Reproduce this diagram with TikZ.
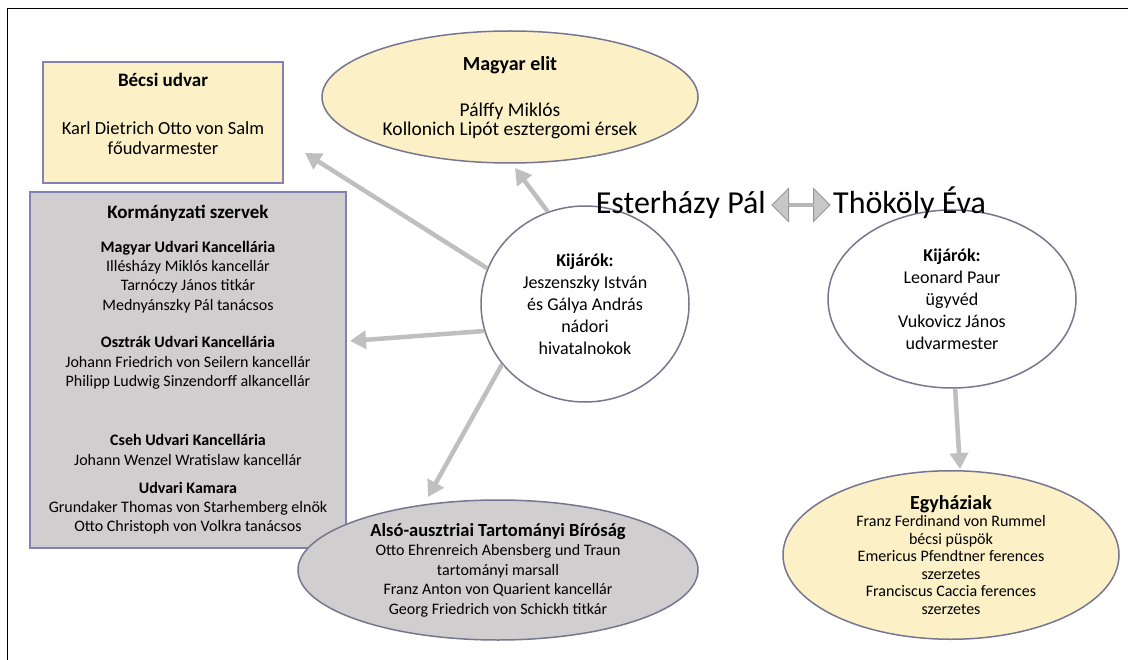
\documentclass[tikz,border=0pt]{standalone}
\usepackage{fontspec}
\setmainfont{Carlito}
\usetikzlibrary{arrows.meta,shapes.geometric,shapes.arrows}

\definecolor{cream}{RGB}{252,240,199}
\definecolor{boxline}{RGB}{132,128,180}
\definecolor{panelgray}{RGB}{208,206,206}
\definecolor{ovalline}{RGB}{118,118,144}
\definecolor{linkgray}{RGB}{191,191,191}
\definecolor{marrfill}{RGB}{200,200,200}
\definecolor{marrline}{RGB}{150,150,150}

\begin{document}
\begin{tikzpicture}[x=1pt, y=-1pt,
  yellowbox/.style={draw=boxline, fill=cream, line width=1.5, inner sep=0},
  graybox/.style={draw=boxline, fill=panelgray, line width=1.5, inner sep=0},
  oval/.style={ellipse, draw=ovalline, line width=1.5, inner sep=0, align=center},
  txt/.style={align=center, inner sep=0},
  headfont/.style={font=\fontsize{19}{22}\selectfont\bfseries},
  kormfont/.style={font=\fontsize{16}{19.3}\selectfont},
  circfont/.style={font=\fontsize{18}{22}\selectfont},
  linkarrow/.style={linkgray, line width=4.5, -{Triangle[width=18,length=16]}}]

\useasboundingbox (0,0) rectangle (1132,660);

% frame
\draw[line width=1] (1128,9) -- (7,9) -- (7,660);

% Becsi udvar
\node[yellowbox, minimum width=240, minimum height=121] (becs) at (163,122.5) {};
\node[txt, headfont] (becstitle) at (163,80) {Bécsi udvar};
\node[txt, font=\fontsize{18.5}{19.5}\selectfont] (salm) at (163,138) {Karl Dietrich Otto von Salm\\főudvarmester};

% Magyar elit
\node[oval, fill=cream, minimum width=376, minimum height=132] (elit) at (510,97) {};
\node[txt, font=\fontsize{20}{24}\selectfont\bfseries] (elittitle) at (510,65) {Magyar elit};
\node[txt, font=\fontsize{19.5}{19}\selectfont] (elitnames) at (510,121) {Pálffy Miklós\\Kollonich Lipót esztergomi érsek};

% Kormanyzati szervek
\node[graybox, minimum width=316, minimum height=356] (korm) at (188,370) {};
\node[txt, headfont] (kormtitle) at (188,213) {Kormányzati szervek};
\node[txt, kormfont] (mukk) at (188,277) {\textbf{Magyar Udvari Kancellária}\\Illésházy Miklós kancellár\\Tarnóczy János titkár\\Mednyánszky Pál tanácsos};
\node[txt, kormfont] (oukk) at (188,363) {\textbf{Osztrák Udvari Kancellária}\\Johann Friedrich von Seilern kancellár\\Philipp Ludwig Sinzendorff alkancellár};
\node[txt, kormfont] (cukk) at (188,450) {\textbf{Cseh Udvari Kancellária}\\Johann Wenzel Wratislaw kancellár};
\node[txt, kormfont] (kamara) at (188,508) {\textbf{Udvari Kamara}\\Grundaker Thomas von Starhemberg elnök\\Otto Christoph von Volkra tanácsos};

% kijarok
\node[oval, fill=white, minimum width=208, minimum height=196, circfont] (kijesz) at (585,304) {\textbf{Kijárók:}\\Jeszenszky István\\és Gálya András\\nádori\\hivatalnokok};
\node[oval, fill=white, minimum width=248, minimum height=178, circfont] (kijpaur) at (952,299) {\textbf{Kijárók:}\\Leonard Paur\\ügyvéd\\Vukovicz János\\udvarmester};

% hazaspar
\node[anchor=base east, inner sep=0, font=\fontsize{32}{32}\selectfont] (esterhazy) at (766,214) {Esterházy Pál};
\node[double arrow, draw=marrline, fill=marrfill, line width=1, minimum height=58, minimum width=33, double arrow head extend=6.5, inner sep=0] (marriage) at (801,205) {};
\node[anchor=base west, inner sep=0, font=\fontsize{32}{32}\selectfont] (thokoly) at (833,214) {Thököly Éva};

% Egyhaziak
\node[oval, fill=cream, minimum width=336, minimum height=166, font=\fontsize{16}{17.5}\selectfont] (egyh) at (951,555) {{\fontsize{20}{20}\selectfont\bfseries Egyháziak}\\Franz Ferdinand von Rummel\\bécsi püspök\\Emericus Pfendtner ferences\\szerzetes\\Franciscus Caccia ferences\\szerzetes};

% Also-ausztriai
\node[oval, fill=panelgray, minimum width=400, minimum height=140, font=\fontsize{16}{19.5}\selectfont] (also) at (498,570) {{\fontsize{18.5}{18.5}\selectfont\bfseries Alsó-ausztriai Tartományi Bíróság}\\Otto Ehrenreich Abensberg und Traun\\tartományi marsall\\Franz Anton von Quarient kancellár\\Georg Friedrich von Schickh titkár};

% nyilak
\coordinate (becstip) at (305,153);
\coordinate (elittip) at (515,168);
\coordinate (kormtip) at (350,341);
\coordinate (alsotip) at (428,497);
\coordinate (egyhtip) at (960,469);

\draw[linkarrow] (kijesz.160) -- (becstip);
\draw[linkarrow] (kijesz.112) -- (elittip);
\draw[linkarrow] (kijesz.195) -- (kormtip);
\draw[linkarrow] (kijesz.216) -- (alsotip);
\draw[linkarrow] (kijpaur.272) -- (egyhtip);

\end{tikzpicture}
\end{document}
